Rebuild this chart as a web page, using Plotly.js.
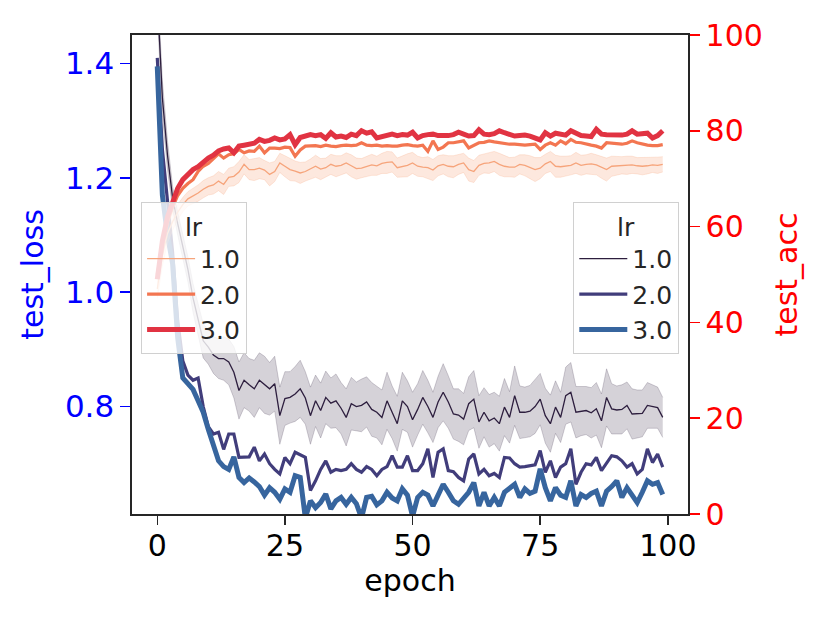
<!DOCTYPE html>
<html>
<head>
<meta charset="utf-8">
<script src="https://cdn.plot.ly/plotly-3.0.1.min.js"></script>
<style>
  body { margin: 0; background: #fff; }
  #chart { width: 830px; height: 623px; }
</style>
</head>
<body>
<div id="chart"></div>
<script>
// learning rates (hue levels)
const lrs = ["1.0", "2.0", "3.0"];

// test_loss per epoch (epochs start at 0, step 1)
const loss1 = [1.52, 1.34, 1.24, 1.165, 1.12, 1.08, 1.04, 0.99, 0.95, 0.915,
  0.904, 0.89, 0.884, 0.884, 0.878, 0.86, 0.828, 0.846, 0.838, 0.831,
  0.846, 0.838, 0.831, 0.84, 0.784, 0.814, 0.816, 0.822, 0.831, 0.815,
  0.784, 0.81, 0.793, 0.816, 0.806, 0.81, 0.797, 0.781, 0.805, 0.80,
  0.802, 0.808, 0.795, 0.79, 0.781, 0.81, 0.79, 0.770, 0.81, 0.80,
  0.777, 0.795, 0.816, 0.80, 0.781, 0.808, 0.825, 0.808, 0.787, 0.785,
  0.778, 0.805, 0.813, 0.773, 0.79, 0.775, 0.78, 0.77, 0.799, 0.781,
  0.819, 0.79, 0.79, 0.792, 0.80, 0.813, 0.784, 0.77, 0.799, 0.781,
  0.819, 0.825, 0.79, 0.792, 0.793, 0.789, 0.796, 0.775, 0.816, 0.796,
  0.794, 0.795, 0.802, 0.787, 0.787, 0.788, 0.802, 0.80, 0.798, 0.781];
const loss1Ci = [0.03, 0.03, 0.025, 0.02, 0.02, 0.02, 0.022, 0.025, 0.028, 0.03,
  0.03, 0.032, 0.035, 0.038, 0.04, 0.045, 0.05, 0.048, 0.046, 0.05,
  0.048, 0.05, 0.046, 0.048, 0.05, 0.047, 0.045, 0.048, 0.05, 0.046,
  0.05, 0.045, 0.048, 0.046, 0.044, 0.047, 0.045, 0.05, 0.046, 0.043,
  0.046, 0.044, 0.047, 0.045, 0.048, 0.05, 0.046, 0.048, 0.05, 0.045,
  0.048, 0.045, 0.047, 0.046, 0.044, 0.045, 0.05, 0.046, 0.044, 0.046,
  0.045, 0.047, 0.05, 0.046, 0.043, 0.046, 0.045, 0.048, 0.05, 0.045,
  0.052, 0.046, 0.044, 0.045, 0.047, 0.045, 0.048, 0.05, 0.046, 0.044,
  0.05, 0.052, 0.045, 0.043, 0.042, 0.044, 0.046, 0.047, 0.05, 0.044,
  0.042, 0.043, 0.041, 0.044, 0.042, 0.041, 0.04, 0.038, 0.036, 0.035];
const loss2 = [1.41, 1.25, 1.16, 1.07, 0.95, 0.88, 0.855, 0.846, 0.85, 0.80,
  0.765, 0.752, 0.755, 0.725, 0.752, 0.752, 0.711, 0.711, 0.712, 0.729,
  0.705, 0.717, 0.70, 0.69, 0.682, 0.711, 0.70, 0.72, 0.715, 0.711,
  0.653, 0.670, 0.69, 0.705, 0.685, 0.69, 0.688, 0.69, 0.70, 0.69,
  0.685, 0.695, 0.69, 0.679, 0.69, 0.695, 0.714, 0.694, 0.694, 0.714,
  0.688, 0.688, 0.70, 0.726, 0.676, 0.72, 0.726, 0.688, 0.686, 0.676,
  0.670, 0.708, 0.717, 0.682, 0.69, 0.679, 0.683, 0.676, 0.711, 0.71,
  0.70, 0.694, 0.695, 0.697, 0.698, 0.723, 0.685, 0.705, 0.676, 0.694,
  0.70, 0.726, 0.664, 0.685, 0.70, 0.698, 0.711, 0.688, 0.70, 0.714,
  0.712, 0.705, 0.694, 0.70, 0.682, 0.69, 0.726, 0.702, 0.717, 0.694];
const loss3 = [1.395, 1.17, 1.10, 1.05, 0.92, 0.85, 0.84, 0.83, 0.81, 0.79,
  0.76, 0.73, 0.705, 0.695, 0.69, 0.712, 0.676, 0.667, 0.675, 0.668,
  0.66, 0.645, 0.658, 0.65, 0.638, 0.656, 0.65, 0.679, 0.676, 0.605,
  0.635, 0.623, 0.632, 0.647, 0.621, 0.635, 0.641, 0.629, 0.641, 0.63,
  0.605, 0.641, 0.643, 0.628, 0.635, 0.65, 0.64, 0.635, 0.656, 0.645,
  0.608, 0.641, 0.65, 0.645, 0.626, 0.645, 0.664, 0.65, 0.635, 0.629,
  0.641, 0.65, 0.667, 0.626, 0.65, 0.626, 0.641, 0.626, 0.65, 0.656,
  0.664, 0.641, 0.656, 0.648, 0.652, 0.691, 0.658, 0.635, 0.658, 0.645,
  0.641, 0.670, 0.626, 0.646, 0.641, 0.648, 0.652, 0.626, 0.652, 0.66,
  0.67, 0.641, 0.658, 0.645, 0.632, 0.65, 0.67, 0.664, 0.667, 0.646];

// test_acc per epoch
const acc1 = [47, 54, 58.5, 61, 63, 64.6, 65.8, 66.4, 67.0, 67.8,
  68.4, 68.7, 69.5, 68.8, 70.3, 70.5, 71.4, 73.0, 71.9, 71.9,
  72.2, 71.8, 70.9, 71.5, 73.3, 72.6, 71.9, 71.6, 71.2, 71.5,
  72.0, 72.6, 72.0, 72.3, 73.0, 72.6, 72.8, 73.3, 72.7, 72.1,
  72.2, 72.6, 72.9, 72.7, 73.2, 73.4, 73.5, 72.3, 72.6, 72.8,
  73.3, 72.6, 72.4, 72.3, 71.8, 72.7, 73.0, 72.6, 72.5, 73.0,
  73.3, 71.9, 71.5, 72.8, 73.2, 73.3, 73.6, 73.0, 72.6, 72.4,
  72.4, 73.0, 72.8, 72.4, 71.9, 72.2, 73.1, 73.6, 72.6, 72.5,
  72.6, 72.8, 73.3, 72.8, 73.0, 73.1, 72.9, 72.4, 71.9, 72.6,
  72.7, 72.8, 72.8, 72.9, 72.7, 72.6, 72.7, 72.9, 72.8, 73.0];
const acc1Ci = [2.0, 2.2, 2.0, 1.8, 1.6, 1.5, 1.5, 1.6, 1.7, 1.8,
  1.8, 1.9, 2.0, 2.1, 1.9, 2.0, 2.2, 2.0, 2.1, 2.3,
  2.2, 2.0, 2.4, 2.1, 2.0, 2.2, 2.3, 2.1, 2.2, 2.0,
  2.1, 2.3, 2.2, 2.0, 2.1, 2.2, 2.0, 2.1, 2.3, 2.2,
  2.0, 2.1, 2.2, 2.0, 2.1, 2.3, 2.1, 2.0, 2.2, 2.4,
  2.2, 2.1, 2.0, 2.3, 2.2, 2.1, 2.0, 2.2, 2.3, 2.1,
  2.0, 2.4, 2.3, 2.1, 2.0, 2.2, 2.1, 2.3, 2.2, 2.0,
  2.1, 2.0, 2.2, 2.4, 2.5, 2.2, 2.0, 2.1, 2.3, 2.2,
  2.1, 2.0, 2.2, 2.1, 2.0, 2.2, 2.1, 2.3, 2.4, 2.1,
  1.9, 1.8, 1.9, 1.8, 1.7, 1.8, 1.7, 1.6, 1.7, 1.6];
const acc2 = [50, 56, 61, 64, 66.5, 68, 69, 69.8, 71.5, 72.6,
  73.2, 74.3, 75.2, 74.3, 75.0, 75.2, 76.1, 75.4, 75.8, 75.7,
  76.8, 75.4, 76.4, 76.4, 76.3, 76.6, 76.5, 74.7, 76.0, 76.8,
  76.9, 76.9, 76.7, 77.0, 76.8, 76.7, 76.9, 77.0, 76.9, 77.0,
  77.5, 77.0, 76.9, 77.0, 76.8, 76.9, 76.8, 76.8, 77.0, 77.1,
  76.9, 76.8, 77.0, 75.7, 77.9, 76.1, 76.6, 77.5, 77.5, 77.7,
  77.9, 76.4, 77.0, 77.5, 77.6, 77.9, 77.7, 77.5, 77.3, 77.2,
  77.2, 77.1, 77.0, 77.1, 77.2, 76.1, 77.0, 77.5, 77.0, 77.9,
  77.3, 78.2, 77.6, 77.5, 77.2, 77.0, 76.8, 76.4, 77.5, 77.4,
  77.3, 77.2, 77.4, 77.9, 77.5, 77.2, 77.0, 76.9, 76.9, 77.1];
const acc3 = [49, 57, 62, 65, 68, 69.8, 71, 71.9, 72.5, 73.5,
  74.3, 74.9, 75.8, 76.2, 76.4, 75.4, 76.8, 77.0, 77.1, 77.4,
  78.2, 77.8, 78.0, 78.5, 78.1, 78.3, 79.2, 77.1, 78.6, 78.9,
  79.2, 79.0, 79.2, 78.4, 79.6, 78.7, 78.9, 78.6, 79.3, 79.0,
  80.0, 79.5, 79.8, 78.5, 78.8, 79.2, 79.3, 79.0, 79.2, 79.1,
  79.7, 78.5, 79.0, 79.2, 79.3, 79.0, 78.9, 79.0, 79.2, 79.7,
  79.3, 78.9, 79.0, 80.2, 79.3, 79.2, 79.4, 80.0, 79.6, 79.3,
  78.9, 79.0, 79.1, 78.9, 78.6, 78.1, 79.6, 78.9, 79.5, 79.4,
  79.1, 80.0, 79.4, 79.0, 78.9, 78.8, 80.3, 79.3, 79.2, 79.1,
  79.1, 79.1, 79.3, 80.0, 79.3, 79.4, 79.5, 78.5, 79.0, 80.0];

const font = "DejaVu Sans, sans-serif";

// seaborn-like palettes: mako for loss, rocket for acc
const lossColors = ["#2d1e3e", "#413d7b", "#37659e"];
const accColors = ["#f6a47b", "#f37651", "#e13342"];
const widths = [1.3, 3.2, 5];

function band(mean, ci, yaxis, fillColor, edgeColor) {
  let lo = mean.map((v, i) => v - ci[i]);
  let hi = mean.map((v, i) => v + ci[i]);
  return [
    { y: lo, x0: 0, dx: 1, yaxis: yaxis, mode: "lines", showlegend: false,
      hoverinfo: "skip", line: { width: 0.8, color: edgeColor } },
    { y: hi, x0: 0, dx: 1, yaxis: yaxis, mode: "lines", showlegend: false,
      hoverinfo: "skip", fill: "tonexty", fillcolor: fillColor,
      line: { width: 0.8, color: edgeColor } }
  ];
}

let data = [];
// loss (left axis), drawn first
data = data.concat(band(loss1, loss1Ci, "y", "rgba(45,30,62,0.2)", "rgba(45,30,62,0.25)"));
[loss1, loss2, loss3].forEach((s, i) => {
  data.push({ y: s, x0: 0, dx: 1, yaxis: "y", mode: "lines", name: lrs[i],
    legend: "legend2", line: { color: lossColors[i], width: widths[i] } });
});
// acc (right axis), drawn on top
data = data.concat(band(acc1, acc1Ci, "y2", "rgba(246,164,123,0.25)", "rgba(246,164,123,0.3)"));
[acc1, acc2, acc3].forEach((s, i) => {
  data.push({ y: s, x0: 0, dx: 1, yaxis: "y2", mode: "lines", name: lrs[i],
    legend: "legend", line: { color: accColors[i], width: widths[i] } });
});

let legendBase = {
  bgcolor: "rgba(255,255,255,0.8)",
  bordercolor: "#d0d0d0",
  borderwidth: 1.2,
  font: { family: font, size: 25, color: "#262626" },
  title: { text: "lr", side: "top center", font: { family: font, size: 25, color: "#262626" } },
  traceorder: "normal",
  itemwidth: 48,
  yanchor: "top",
  y: 0.651,
  tracegroupgap: 0
};

let layout = {
  width: 830,
  height: 623,
  margin: { l: 132, r: 142, t: 35, b: 109 },
  paper_bgcolor: "#fff",
  plot_bgcolor: "#fff",
  font: { family: font, size: 30, color: "#000" },
  xaxis: {
    range: [-4.95, 103.95],
    tickvals: [0, 25, 50, 75, 100],
    ticks: "outside", ticklen: 9, tickwidth: 1.5, tickcolor: "#262626",
    ticklabelstandoff: -5,
    showline: true, mirror: true, linecolor: "#262626", linewidth: 1.6,
    showgrid: false, zeroline: false,
    tickfont: { family: font, size: 30, color: "#000" },
    title: { text: "epoch", standoff: 0, font: { family: font, size: 30, color: "#000" } }
  },
  yaxis: {
    range: [0.612, 1.45],
    tickvals: [0.8, 1.0, 1.2, 1.4],
    ticktext: ["0.8", "1.0", "1.2", "1.4"],
    ticks: "outside", ticklen: 10, tickwidth: 1.5, tickcolor: "blue",
    showline: true, linecolor: "#262626", linewidth: 1.6,
    showgrid: false, zeroline: false,
    tickfont: { family: font, size: 31, color: "blue" },
    title: { text: "test_loss", standoff: 12, font: { family: font, size: 30, color: "blue" } }
  },
  yaxis2: {
    overlaying: "y", side: "right",
    range: [0, 100],
    tickvals: [0, 20, 40, 60, 80, 100],
    ticks: "outside", ticklen: 10, tickwidth: 1.5, tickcolor: "red",
    showline: true, linecolor: "#262626", linewidth: 1.6,
    showgrid: false, zeroline: false,
    tickfont: { family: font, size: 30, color: "red" },
    title: { text: "test_acc", standoff: 14, font: { family: font, size: 30, color: "red" } }
  },
  legend: Object.assign({}, legendBase, { x: 0.016, xanchor: "left" }),
  legend2: Object.assign({}, legendBase, { x: 0.984, xanchor: "right" }),
  showlegend: true
};

Plotly.newPlot("chart", data, layout, { staticPlot: true });
</script>
</body>
</html>
